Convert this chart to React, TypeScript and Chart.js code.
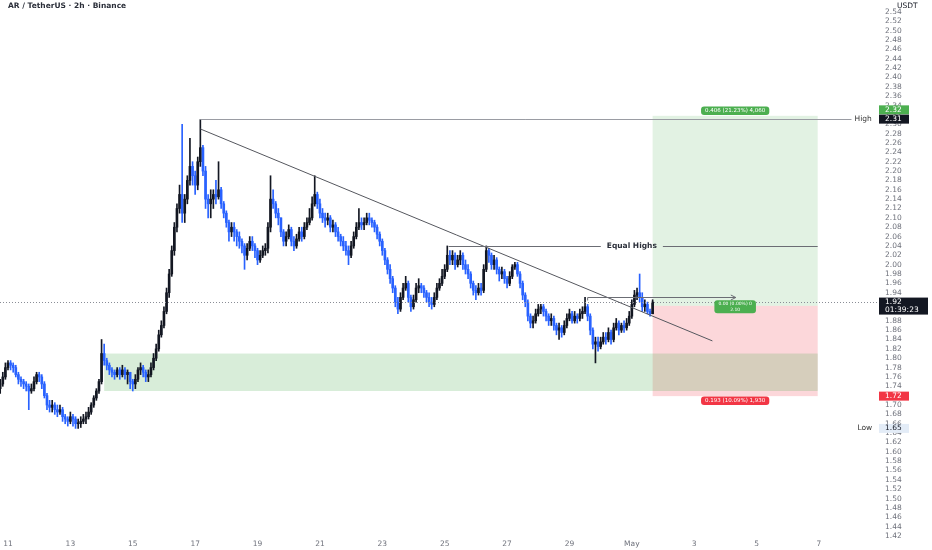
import React, { useEffect, useRef } from "react";
import { Chart, registerables } from "chart.js";

Chart.register(...registerables);

// ---------- data (2h candles, AR/USDT) ----------
const firstOpen = 1.735;
const candleStartHour = -6; // hours relative to 11 Apr 00:00
const candleStepHours = 2;

const closes = [
  1.745, 1.76, 1.78, 1.79, 1.785, 1.78, 1.765, 1.755, 1.75, 1.745,
  1.74, 1.73, 1.735, 1.75, 1.765, 1.76, 1.745, 1.72, 1.70, 1.695,
  1.70, 1.69, 1.685, 1.69, 1.675, 1.67, 1.665, 1.675, 1.67, 1.66,
  1.66, 1.665, 1.67, 1.675, 1.685, 1.70, 1.715, 1.73, 1.75, 1.81,
  1.795, 1.785, 1.775, 1.77, 1.765, 1.775, 1.765, 1.775, 1.765, 1.77,
  1.75, 1.745, 1.755, 1.775, 1.78, 1.77, 1.76, 1.765, 1.78, 1.80,
  1.82, 1.85, 1.87, 1.90, 1.94, 1.98, 2.03, 2.08, 2.12, 2.15,
  2.11, 2.14, 2.18, 2.21, 2.19, 2.17, 2.22, 2.25, 2.20, 2.14,
  2.13, 2.14, 2.15, 2.145, 2.16, 2.13, 2.11, 2.09, 2.07, 2.08,
  2.07, 2.06, 2.05, 2.04, 2.02, 2.035, 2.05, 2.04, 2.03, 2.01,
  2.02, 2.03, 2.035, 2.08, 2.14, 2.13, 2.11, 2.10, 2.07, 2.05,
  2.06, 2.075, 2.05, 2.04, 2.055, 2.07, 2.06, 2.08, 2.09, 2.10,
  2.13, 2.15, 2.13, 2.11, 2.10, 2.095, 2.10, 2.08, 2.085, 2.07,
  2.06, 2.05, 2.04, 2.03, 2.02, 2.04, 2.06, 2.08, 2.09, 2.085,
  2.09, 2.10, 2.095, 2.09, 2.08, 2.065, 2.05, 2.03, 2.01, 1.99,
  1.97, 1.95, 1.92, 1.905, 1.93, 1.95, 1.96, 1.93, 1.91, 1.925,
  1.95, 1.955, 1.95, 1.94, 1.93, 1.92, 1.915, 1.93, 1.95, 1.96,
  1.975, 1.99, 2.02, 2.01, 2.02, 2.00, 2.01, 2.02, 2.00, 1.99,
  1.98, 1.96, 1.945, 1.94, 1.95, 1.945, 1.99, 2.03, 2.02, 2.00,
  2.01, 1.99, 1.98, 1.985, 1.97, 1.96, 1.975, 1.995, 2.00, 1.98,
  1.96, 1.935, 1.92, 1.89, 1.875, 1.88, 1.895, 1.905, 1.91, 1.90,
  1.89, 1.88, 1.885, 1.87, 1.86, 1.865, 1.855, 1.87, 1.885, 1.895,
  1.88, 1.89, 1.885, 1.895, 1.90, 1.91, 1.89, 1.86, 1.83, 1.835,
  1.825, 1.835, 1.845, 1.84, 1.855, 1.84, 1.865, 1.875, 1.86, 1.87,
  1.865, 1.875, 1.89, 1.915, 1.935, 1.94, 1.93, 1.91, 1.915, 1.90,
  1.895, 1.92,
];

const highs = [
  1.755, 1.77, 1.79, 1.795, 1.795, 1.79, 1.785, 1.77, 1.76, 1.755,
  1.75, 1.745, 1.745, 1.76, 1.77, 1.77, 1.765, 1.75, 1.725, 1.71,
  1.71, 1.705, 1.70, 1.70, 1.695, 1.68, 1.675, 1.685, 1.68, 1.675,
  1.67, 1.675, 1.68, 1.685, 1.695, 1.705, 1.72, 1.735, 1.755, 1.84,
  1.83, 1.80, 1.79, 1.78, 1.775, 1.78, 1.78, 1.785, 1.78, 1.775,
  1.77, 1.755, 1.765, 1.78, 1.79, 1.785, 1.775, 1.775, 1.79, 1.81,
  1.83, 1.86, 1.88, 1.91, 1.95, 1.99, 2.04, 2.09, 2.13, 2.17,
  2.30, 2.15, 2.19, 2.27, 2.22, 2.20, 2.23, 2.31, 2.255, 2.21,
  2.15, 2.16, 2.16, 2.18, 2.22, 2.165, 2.135, 2.115, 2.095, 2.09,
  2.09, 2.075, 2.07, 2.055, 2.045, 2.045, 2.06, 2.06, 2.045, 2.035,
  2.03, 2.04, 2.045, 2.09, 2.19, 2.16, 2.135, 2.12, 2.10, 2.075,
  2.07, 2.085, 2.08, 2.06, 2.065, 2.08, 2.08, 2.09, 2.10, 2.12,
  2.145, 2.19, 2.155, 2.14, 2.12, 2.11, 2.11, 2.105, 2.095, 2.09,
  2.08, 2.065, 2.06, 2.05, 2.04, 2.05, 2.07, 2.09, 2.12, 2.10,
  2.10, 2.11, 2.11, 2.10, 2.095, 2.085, 2.07, 2.055, 2.035, 2.015,
  2.00, 1.975, 1.955, 1.93, 1.94, 1.96, 1.975, 1.965, 1.935, 1.935,
  1.96, 1.97, 1.96, 1.955, 1.945, 1.94, 1.93, 1.94, 1.96, 1.97,
  1.99, 2.00, 2.04, 2.03, 2.03, 2.025, 2.02, 2.03, 2.025, 2.01,
  2.00, 1.985, 1.965, 1.955, 1.96, 1.96, 2.00, 2.04, 2.035, 2.025,
  2.02, 2.015, 1.995, 1.995, 1.99, 1.975, 1.985, 2.00, 2.005, 2.005,
  1.985, 1.965, 1.94, 1.925, 1.895, 1.89, 1.905, 1.915, 1.915, 1.915,
  1.905, 1.895, 1.895, 1.89, 1.875, 1.875, 1.87, 1.88, 1.895, 1.905,
  1.90, 1.90, 1.895, 1.905, 1.91, 1.93, 1.915, 1.895, 1.865, 1.845,
  1.845, 1.845, 1.855, 1.855, 1.865, 1.86, 1.875, 1.885, 1.88, 1.875,
  1.88, 1.885, 1.90, 1.925, 1.945, 1.95, 1.98, 1.94, 1.925, 1.92,
  1.905, 1.925,
];

const lows = [
  1.725, 1.74, 1.755, 1.775, 1.775, 1.77, 1.76, 1.745, 1.74, 1.735,
  1.73, 1.69, 1.725, 1.73, 1.745, 1.75, 1.735, 1.715, 1.69, 1.685,
  1.685, 1.68, 1.675, 1.68, 1.665, 1.66, 1.655, 1.66, 1.655, 1.65,
  1.65, 1.652, 1.66, 1.66, 1.67, 1.68, 1.695, 1.71, 1.725, 1.745,
  1.785, 1.775, 1.765, 1.76, 1.755, 1.76, 1.755, 1.76, 1.755, 1.745,
  1.735, 1.73, 1.735, 1.75, 1.765, 1.76, 1.75, 1.75, 1.76, 1.775,
  1.795, 1.815, 1.845, 1.865, 1.895, 1.93, 1.975, 2.02, 2.07, 2.11,
  2.09, 2.09, 2.13, 2.17, 2.17, 2.15, 2.16, 2.21, 2.19, 2.12,
  2.10, 2.10, 2.12, 2.13, 2.14, 2.12, 2.10, 2.08, 2.05, 2.06,
  2.05, 2.04, 2.035, 2.025, 1.99, 2.01, 2.03, 2.03, 2.015, 2.00,
  2.005, 2.015, 2.02, 2.025, 2.07, 2.12, 2.10, 2.085, 2.06, 2.04,
  2.04, 2.055, 2.04, 2.03, 2.035, 2.05, 2.05, 2.055, 2.075, 2.085,
  2.095, 2.125, 2.12, 2.10, 2.09, 2.08, 2.085, 2.07, 2.07, 2.06,
  2.05, 2.04, 2.03, 2.02, 2.00, 2.015, 2.035, 2.055, 2.075, 2.075,
  2.075, 2.085, 2.085, 2.08, 2.07, 2.055, 2.04, 2.02, 2.00, 1.98,
  1.96, 1.94, 1.91, 1.895, 1.90, 1.925, 1.945, 1.92, 1.90, 1.905,
  1.92, 1.94, 1.94, 1.93, 1.92, 1.91, 1.905, 1.91, 1.925, 1.945,
  1.955, 1.97, 1.985, 2.00, 2.00, 1.99, 1.995, 2.00, 1.99, 1.98,
  1.97, 1.95, 1.935, 1.925, 1.935, 1.935, 1.94, 1.985, 2.005, 1.99,
  1.99, 1.98, 1.965, 1.97, 1.96, 1.95, 1.955, 1.97, 1.99, 1.975,
  1.95, 1.925, 1.91, 1.88, 1.865, 1.865, 1.875, 1.89, 1.895, 1.89,
  1.88, 1.87, 1.87, 1.86, 1.85, 1.84, 1.845, 1.85, 1.865, 1.88,
  1.875, 1.875, 1.875, 1.88, 1.885, 1.895, 1.88, 1.85, 1.82, 1.79,
  1.815, 1.82, 1.83, 1.83, 1.835, 1.83, 1.835, 1.86, 1.85, 1.855,
  1.855, 1.86, 1.87, 1.885, 1.91, 1.925, 1.92, 1.90, 1.90, 1.895,
  1.89, 1.895,
];

// time axis: hours from 11 Apr 00:00, one label every 2 days
const dateTickHours = [0, 48, 96, 144, 192, 240, 288, 336, 384, 432, 480, 528, 576, 624];
const dateTickLabels = ["11", "13", "15", "17", "19", "21", "23", "25", "27", "29", "May", "3", "5", "7"];

// price scale labels 1.42 .. 2.54
const priceTickLabels = [
  "1.42", "1.44", "1.46", "1.48", "1.50", "1.52", "1.54", "1.56", "1.58", "1.60",
  "1.62", "1.64", "1.66", "1.68", "1.70", "1.72", "1.74", "1.76", "1.78", "1.80",
  "1.82", "1.84", "1.86", "1.88", "1.90", "1.92", "1.94", "1.96", "1.98", "2.00",
  "2.02", "2.04", "2.06", "2.08", "2.10", "2.12", "2.14", "2.16", "2.18", "2.20",
  "2.22", "2.24", "2.26", "2.28", "2.30", "2.32", "2.34", "2.36", "2.38", "2.40",
  "2.42", "2.44", "2.46", "2.48", "2.50", "2.52", "2.54",
];

// drawings
const demandZone = { from: 74, to: 623, low: 1.73, high: 1.81 };
const position = { from: 496, to: 623, entry: 1.912, target: 2.318, stop: 1.719 };
const highLevel = { from: 148, to: 649, price: 2.311 };
const lowPrice = 1.65;
const equalHighs = { from: 339, to: 623, price: 2.04, labelAt: 480 };
const trendLine = { t1: 148, p1: 2.29, t2: 542, p2: 1.837 };
const arrowLine = { from: 446, to: 560, price: 1.93 };
const lastPrice = 1.92;

const upColor = "#131722";
const downColor = "#2962ff";
const FONT = "DejaVu Sans";
const tickColor = "#6f727c";

function pill(ctx: CanvasRenderingContext2D, cx: number, cy: number, lines: string[], bg: string, fg: string, size: number) {
  ctx.font = `${size}px ${FONT}`;
  const w = Math.max(...lines.map((l) => ctx.measureText(l).width)) + 8;
  const lh = size + 1;
  const h = lines.length * lh + 2;
  ctx.fillStyle = bg;
  ctx.beginPath();
  (ctx as any).roundRect(cx - w / 2, cy - h / 2, w, h, 3);
  ctx.fill();
  ctx.fillStyle = fg;
  ctx.textAlign = "center";
  ctx.textBaseline = "middle";
  lines.forEach((l, k) => ctx.fillText(l, cx, cy - h / 2 + 1 + lh * (k + 0.5)));
}

function axisBox(ctx: CanvasRenderingContext2D, x: number, cy: number, lines: string[], bg: string, fg: string, w: number) {
  const lh = 8;
  const h = lines.length * lh + 1;
  ctx.fillStyle = bg;
  ctx.fillRect(x, cy - 4.5, w, h);
  ctx.fillStyle = fg;
  ctx.font = `7.5px ${FONT}`;
  ctx.textAlign = "left";
  ctx.textBaseline = "middle";
  lines.forEach((l, k) => ctx.fillText(l, x + 6, cy + k * lh));
}

const overlay = {
  id: "overlay",
  beforeDatasetsDraw(chart: any) {
    const { ctx, chartArea, scales } = chart;
    const x = scales.x;
    const y = scales.y;
    ctx.save();
    ctx.beginPath();
    ctx.rect(chartArea.left, chartArea.top, chartArea.right - chartArea.left, chartArea.bottom - chartArea.top);
    ctx.clip();
    const px1 = x.getPixelForValue(position.from);
    const px2 = x.getPixelForValue(position.to);
    ctx.fillStyle = "rgba(76,175,80,0.16)";
    ctx.fillRect(px1, y.getPixelForValue(position.target), px2 - px1, y.getPixelForValue(position.entry) - y.getPixelForValue(position.target));
    ctx.fillStyle = "rgba(242,54,69,0.2)";
    ctx.fillRect(px1, y.getPixelForValue(position.entry), px2 - px1, y.getPixelForValue(position.stop) - y.getPixelForValue(position.entry));
    const dx1 = x.getPixelForValue(demandZone.from);
    const dx2 = x.getPixelForValue(demandZone.to);
    ctx.fillStyle = "rgba(76,175,80,0.22)";
    ctx.fillRect(dx1, y.getPixelForValue(demandZone.high), dx2 - dx1, y.getPixelForValue(demandZone.low) - y.getPixelForValue(demandZone.high));
    ctx.restore();
  },
  afterDatasetsDraw(chart: any) {
    const { ctx, chartArea, scales } = chart;
    const x = scales.x;
    const y = scales.y;
    ctx.save();
    ctx.lineWidth = 1;
    // last price dotted line
    const ly = Math.round(y.getPixelForValue(lastPrice)) + 0.5;
    ctx.strokeStyle = "#8a8d96";
    ctx.setLineDash([1, 2]);
    ctx.beginPath();
    ctx.moveTo(chartArea.left, ly);
    ctx.lineTo(chartArea.right, ly);
    ctx.stroke();
    ctx.setLineDash([]);
    // High line
    const hy = Math.round(y.getPixelForValue(highLevel.price)) + 0.5;
    const hx2 = x.getPixelForValue(highLevel.to);
    ctx.strokeStyle = "#9a9ca3";
    ctx.beginPath();
    ctx.moveTo(x.getPixelForValue(highLevel.from), hy);
    ctx.lineTo(hx2, hy);
    ctx.stroke();
    ctx.fillStyle = "#333";
    ctx.font = `7.5px ${FONT}`;
    ctx.textAlign = "left";
    ctx.textBaseline = "middle";
    ctx.fillText("High", hx2 + 3, hy);
    // Low label
    ctx.fillText("Low", hx2 + 6, y.getPixelForValue(lowPrice));
    // trend line
    ctx.strokeStyle = "#55575e";
    ctx.beginPath();
    ctx.moveTo(x.getPixelForValue(trendLine.t1), y.getPixelForValue(trendLine.p1));
    ctx.lineTo(x.getPixelForValue(trendLine.t2), y.getPixelForValue(trendLine.p2));
    ctx.stroke();
    // equal highs
    const ey = Math.round(y.getPixelForValue(equalHighs.price)) + 0.5;
    const ecx = x.getPixelForValue(equalHighs.labelAt);
    ctx.font = `bold 7.5px ${FONT}`;
    const tw = ctx.measureText("Equal Highs").width;
    ctx.strokeStyle = "#6b6d74";
    ctx.beginPath();
    ctx.moveTo(x.getPixelForValue(equalHighs.from), ey);
    ctx.lineTo(ecx - tw / 2 - 6, ey);
    ctx.moveTo(ecx + tw / 2 + 6, ey);
    ctx.lineTo(x.getPixelForValue(equalHighs.to), ey);
    ctx.stroke();
    ctx.fillStyle = "#2a2e39";
    ctx.textAlign = "center";
    ctx.fillText("Equal Highs", ecx, ey);
    // arrow
    const ay = Math.round(y.getPixelForValue(arrowLine.price)) + 0.5;
    const ax1 = x.getPixelForValue(arrowLine.from);
    const ax2 = x.getPixelForValue(arrowLine.to);
    ctx.strokeStyle = "#6b6d74";
    ctx.beginPath();
    ctx.moveTo(ax1, ay + 3);
    ctx.lineTo(ax1, ay);
    ctx.lineTo(ax2, ay);
    ctx.moveTo(ax2 - 5, ay - 2.5);
    ctx.lineTo(ax2, ay);
    ctx.lineTo(ax2 - 5, ay + 2.5);
    ctx.stroke();
    // position labels
    const pcx = (x.getPixelForValue(position.from) + x.getPixelForValue(position.to)) / 2;
    pill(ctx, pcx, y.getPixelForValue(position.target) - 5, ["0.406 (21.23%) 4,060"], "#4caf50", "#ffffff", 5.5);
    pill(ctx, pcx, y.getPixelForValue(position.entry) + 1, ["0.00 (0.00%) 0", "2.10"], "#4caf50", "#ffffff", 4.5);
    pill(ctx, pcx, y.getPixelForValue(position.stop) + 4.5, ["0.193 (10.09%) 1,930"], "#f23645", "#ffffff", 5.5);
    ctx.restore();
  },
  afterDraw(chart: any) {
    const { ctx, chartArea, scales } = chart;
    const y = scales.y;
    const ax = chartArea.right + 1;
    ctx.save();
    axisBox(ctx, ax, y.getPixelForValue(position.target) - 6, ["2.32"], "#4caf50", "#ffffff", 30);
    axisBox(ctx, ax, y.getPixelForValue(highLevel.price), ["2.31"], "#131722", "#ffffff", 30);
    axisBox(ctx, ax, y.getPixelForValue(lastPrice), ["1.92", "01:39:23"], "#131722", "#ffffff", 49);
    axisBox(ctx, ax, y.getPixelForValue(position.stop), ["1.72"], "#f23645", "#ffffff", 30);
    axisBox(ctx, ax, y.getPixelForValue(lowPrice), ["1.65"], "#e3ecf7", "#131722", 30);
    ctx.fillStyle = "#131722";
    ctx.font = `7.5px ${FONT}`;
    ctx.textAlign = "left";
    ctx.textBaseline = "middle";
    ctx.fillText("USDT", ax + 18, 6);
    ctx.font = `bold 7.5px ${FONT}`;
    ctx.fillStyle = "#2a2e39";
    ctx.fillText("AR / TetherUS · 2h · Binance", 8, 6);
    ctx.restore();
  },
};

export default function App() {
  const ref = useRef<HTMLCanvasElement>(null);
  useEffect(() => {
    document.body.style.margin = "0";
    const opens = closes.map((c, i) => (i === 0 ? firstOpen : closes[i - 1]));
    const times = closes.map((_, i) => candleStartHour + i * candleStepHours);
    const colors = closes.map((c, i) => (c >= opens[i] ? upColor : downColor));
    const wickData = closes.map((c, i) => ({
      x: times[i],
      y: [Math.min(lows[i], opens[i], c), Math.max(highs[i], opens[i], c)],
    }));
    const bodyData = closes.map((c, i) => ({ x: times[i], y: [opens[i], c] }));
    const priceTicks = priceTickLabels.map((s) => parseFloat(s));

    const chart = new Chart(ref.current as HTMLCanvasElement, {
      type: "bar",
      data: {
        datasets: [
          { data: wickData as any, backgroundColor: colors, barThickness: 1, grouped: false, minBarLength: 1, borderWidth: 0 } as any,
          { data: bodyData as any, backgroundColor: colors, barThickness: 2, grouped: false, minBarLength: 1, borderWidth: 0 } as any,
        ],
      },
      options: {
        animation: false,
        responsive: false,
        layout: { padding: 0 },
        plugins: { legend: { display: false }, tooltip: { enabled: false } },
        scales: {
          x: {
            type: "linear",
            min: -6.15,
            max: 669.4,
            offset: false,
            grid: { display: false, drawTicks: false },
            border: { display: false },
            afterBuildTicks: (s: any) => {
              s.ticks = dateTickHours.map((v) => ({ value: v }));
            },
            afterFit: (s: any) => {
              s.height = 12;
              s.paddingLeft = 0;
              s.paddingRight = 0;
              s.paddingTop = 0;
              s.paddingBottom = 0;
            },
            ticks: {
              autoSkip: false,
              maxRotation: 0,
              padding: 2,
              color: tickColor,
              font: { family: FONT, size: 7.5 },
              callback: (_v: any, i: number) => dateTickLabels[i],
            },
          },
          y: {
            type: "linear",
            position: "right",
            min: 1.4158,
            max: 2.5656,
            grid: { display: false, drawTicks: false },
            border: { display: false },
            afterBuildTicks: (s: any) => {
              s.ticks = priceTicks.map((v) => ({ value: v }));
            },
            afterFit: (s: any) => {
              s.width = 54;
              s.paddingLeft = 0;
              s.paddingRight = 0;
              s.paddingTop = 0;
              s.paddingBottom = 0;
            },
            ticks: {
              autoSkip: false,
              padding: 7,
              color: tickColor,
              font: { family: FONT, size: 7.5 },
              callback: (v: any) => Number(v).toFixed(2),
            },
          },
        },
      },
      plugins: [overlay as any],
    });
    return () => chart.destroy();
  }, []);
  return (
    <div style={{ width: 932, height: 550, position: "relative", background: "#fff" }}>
      <canvas ref={ref} width={932} height={550} style={{ display: "block" }} />
    </div>
  );
}
